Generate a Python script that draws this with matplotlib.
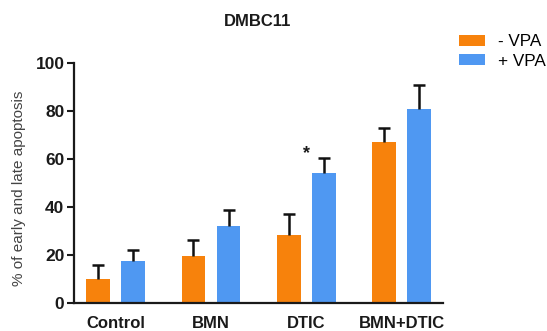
import matplotlib
matplotlib.use("Agg")
import matplotlib.pyplot as plt
import numpy as np

plt.rcParams['font.family'] = ['Liberation Sans', 'DejaVu Sans']

categories = ["Control", "BMN", "DTIC", "BMN+DTIC"]
minus_vpa = [10.2, 19.6, 28.3, 67.2]
minus_vpa_err = [5.7, 6.5, 9.0, 6.0]
plus_vpa = [17.5, 32.3, 54.4, 81.1]
plus_vpa_err = [4.8, 6.6, 6.2, 9.9]
series_labels = ["- VPA", "+ VPA"]
yticks = [0, 20, 40, 60, 80, 100]
title = "DMBC11"
ylabel = "% of early and late apoptosis"

orange = "#F7820C"
blue = "#4F98F2"

fig = plt.figure(figsize=(5.47, 3.31), dpi=100)
ax = fig.add_axes([73.5/547, 1-303/331, (443-73.5)/547, (303-63.3)/331])

x = np.arange(len(categories))
w = 0.25
off = 0.184
ekw = dict(elinewidth=1.8, capthick=1.8, ecolor="#111111")
b1 = ax.bar(x - off, minus_vpa, w, color=orange,
            yerr=[np.zeros(len(x)), minus_vpa_err], capsize=4.3, error_kw=ekw,
            label=series_labels[0])
b2 = ax.bar(x + off, plus_vpa, w, color=blue,
            yerr=[np.zeros(len(x)), plus_vpa_err], capsize=4.3, error_kw=ekw,
            label=series_labels[1])
for b in (b1, b2):
    caps = b.errorbar.lines[1]
    if len(caps) == 2:
        caps[0].set_visible(False)

ax.set_xlim(-0.443, 3.434)
ax.set_ylim(0, 100)
ax.set_yticks(yticks)
ax.set_xticks(x)
ax.set_xticklabels(categories, fontsize=12, fontweight='bold', color="#1a1a1a")
ax.set_yticklabels([str(t) for t in yticks], fontsize=12.5, fontweight='bold', color="#1a1a1a")
ax.tick_params(axis='x', length=0, pad=9)
ax.tick_params(axis='y', length=5, width=1.5, pad=1.5, color="#1a1a1a")
for s in ['top', 'right']:
    ax.spines[s].set_visible(False)
for s in ['left', 'bottom']:
    ax.spines[s].set_linewidth(1.6)
    ax.spines[s].set_color("#1a1a1a")

ax.text(2, 62.5, "*", ha='center', va='center', fontsize=13, fontweight='bold', color="#1a1a1a")

fig.text(258/547, 1-22/331, title, ha='center', va='center', fontsize=12, fontweight='bold', color="#1a1a1a")
fig.text(19/547, 1-188/331, ylabel, rotation=90, ha='center', va='center', fontsize=11, color="#444444")

fig.legend(handles=[b1, b2], labels=series_labels, loc='upper left',
           bbox_to_anchor=(459/547, 1-34.5/331), frameon=False, fontsize=12.3,
           borderpad=0, borderaxespad=0, handlelength=1.5, handleheight=0.58,
           handletextpad=0.8, labelspacing=0.25)

fig.savefig("out.png", dpi=100)
